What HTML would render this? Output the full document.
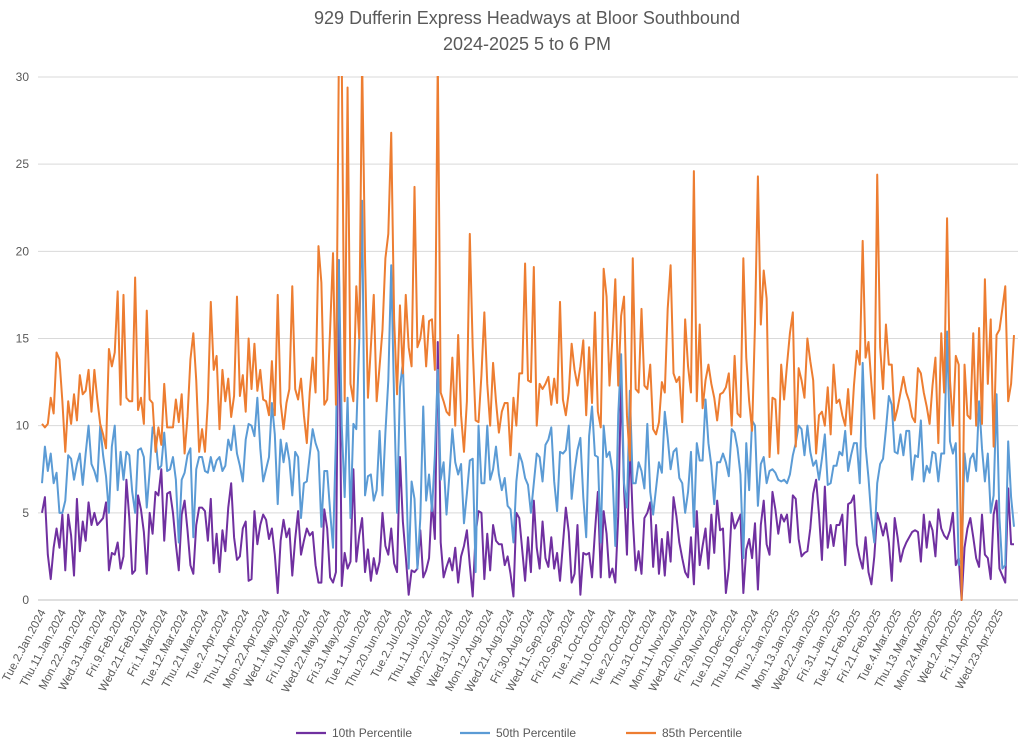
<!DOCTYPE html>
<html><head><meta charset="utf-8"><style>
html,body{margin:0;padding:0;background:#fff;}
svg{display:block;font-family:"Liberation Sans",Arial,sans-serif;}
</style></head><body>
<svg id="chart" width="1024" height="746" viewBox="0 0 1024 746">
<text x="527" y="24" text-anchor="middle" font-size="18" fill="#595959">929 Dufferin Express Headways at Bloor Southbound</text>
<text x="527" y="50" text-anchor="middle" font-size="18" fill="#595959">2024-2025 5 to 6 PM</text>
<defs><clipPath id="pc"><rect x="30" y="76" width="994" height="530"/></clipPath></defs>
<g id="grid"></g>
<g id="yaxis"></g>
<g id="xaxis"></g>
<g id="series" clip-path="url(#pc)"></g>
<g id="legend">
<line x1="296" y1="733" x2="326" y2="733" stroke="#7030a0" stroke-width="2.2"/>
<text x="332" y="737" font-size="12" fill="#595959">10th Percentile</text>
<line x1="460" y1="733" x2="490" y2="733" stroke="#5b9bd5" stroke-width="2.2"/>
<text x="496" y="737" font-size="12" fill="#595959">50th Percentile</text>
<line x1="626" y1="733" x2="656" y2="733" stroke="#ed7d31" stroke-width="2.2"/>
<text x="662" y="737" font-size="12" fill="#595959">85th Percentile</text>
</g>
</svg>
<script>
const yTicks = [0,5,10,15,20,25,30];
const xTickLabels = ["Tue.2.Jan.2024","Thu.11.Jan.2024","Mon.22.Jan.2024","Wed.31.Jan.2024","Fri.9.Feb.2024","Wed.21.Feb.2024","Fri.1.Mar.2024","Tue.12.Mar.2024","Thu.21.Mar.2024","Tue.2.Apr.2024","Thu.11.Apr.2024","Mon.22.Apr.2024","Wed.1.May.2024","Fri.10.May.2024","Wed.22.May.2024","Fri.31.May.2024","Tue.11.Jun.2024","Thu.20.Jun.2024","Tue.2.Jul.2024","Thu.11.Jul.2024","Mon.22.Jul.2024","Wed.31.Jul.2024","Mon.12.Aug.2024","Wed.21.Aug.2024","Fri.30.Aug.2024","Wed.11.Sep.2024","Fri.20.Sep.2024","Tue.1.Oct.2024","Thu.10.Oct.2024","Tue.22.Oct.2024","Thu.31.Oct.2024","Mon.11.Nov.2024","Wed.20.Nov.2024","Fri.29.Nov.2024","Tue.10.Dec.2024","Thu.19.Dec.2024","Thu.2.Jan.2025","Mon.13.Jan.2025","Wed.22.Jan.2025","Fri.31.Jan.2025","Tue.11.Feb.2025","Fri.21.Feb.2025","Tue.4.Mar.2025","Thu.13.Mar.2025","Mon.24.Mar.2025","Wed.2.Apr.2025","Fri.11.Apr.2025","Wed.23.Apr.2025"];
const labelEvery = 7;
const p85 = [10.1,9.9,10.1,11.6,10.7,14.2,13.8,11.4,8.5,11.4,
10.1,11.8,10.3,12.9,11.8,12,13.2,10.8,13.2,11.5,
10.1,9.5,8.7,14.4,13.4,14.2,17.7,11.2,17.5,11.6,
11.4,11.4,18.5,10.9,11.6,10.1,16.6,11.5,11.3,8.5,
9.9,8.9,12.4,9.9,9.9,9.9,11.5,10.2,11.8,8.4,
10.5,13.8,15.3,12.6,8.5,9.8,8.5,11.4,17.1,13.2,
14,9.8,13.2,11.4,12.7,10.5,11.7,17.4,11.7,12.9,
10.8,15,12.1,14.7,12,13.2,11.5,11.4,10.6,13.7,
10.6,17.5,11.3,9.8,11.3,12.1,18,12.1,11.5,12.7,
10.6,9,11.9,13.9,11.9,20.3,18.2,11.2,11.5,15.5,
19.9,11.2,31,31,11.4,29.4,12.4,11.4,18,15,
31,19.6,11.6,14.5,17.5,11.4,13.4,15.5,19.6,21,
26.8,16.1,11.8,16.9,13,17.5,14.5,13.4,23.7,14.5,
15,16.3,13.4,16,16.1,13.2,31,11.9,11.4,10.8,
10.6,13.9,10,15.2,10.6,8.5,11.4,21,14.5,10.3,
10.2,12.9,16.5,12.4,10,13.6,11.4,9.6,10.8,11.3,
11.3,8.3,11.6,10,13,13,19.3,12.6,12.5,19.1,
10,12.4,12.1,12.4,12.8,11.2,12.7,11.3,17.1,11.5,
10.6,11.9,14.7,13.2,12.3,13.4,14.9,10.6,14.5,11.3,
16.5,10.8,9.9,19,17.4,12.3,15,18.4,12.3,16.3,
17.4,10.6,8,19.6,12.1,11.9,16.7,12.3,12.1,13.5,
9.8,9.5,10.2,12.5,11.9,16.7,19.2,13,12.5,12.8,
10.2,16.1,13.4,11.9,24.6,11.4,15.8,11,12.6,13.5,
12.4,11.6,10.3,11.8,11.9,12.2,13,10,14,10.7,
10.5,19.6,13.9,11.4,9.7,15.8,24.3,15.8,18.9,17.3,
8.2,11.6,11.5,8.4,13.5,11.5,13.5,15.3,16.5,8.8,
13.3,12.6,11.6,15,13.7,12.6,8.4,10.6,10.8,10,
12.2,9.5,13.5,11.3,11.5,10.6,10,12.1,9.5,12.3,
14.3,13.5,20.6,13.9,14.8,12.4,10.4,24.4,14.5,12.1,
15.8,13.5,13.5,10.3,11,11.9,12.8,11.9,11.4,10.5,
10.2,13.3,13,11.9,11.1,10.1,12.3,13.9,9,15.3,
11.9,21.9,12.6,10,14,13.5,0,13.5,10.6,10.4,
15.3,10,15.6,10.1,18.4,12.4,16.1,8.8,15.2,15.5,
16.7,18,11.4,12.4,15.2];
const p50 = [6.7,8.8,7.4,8.4,6.7,7.3,5,5,5.7,8.3,
8.1,6.9,7.8,8.4,6.6,8.4,10,7.8,7.4,6.8,
10,8.3,7.1,5,8.8,10,6.3,8.5,6.9,8.5,
8.3,6.2,5,8.6,8.7,8.2,5.3,7.4,9.9,9.3,
7.5,7.7,9.6,7.4,7.5,8.2,6.9,3.3,6.9,7.3,
8.3,8.7,3.6,7.5,8.2,8.2,7.4,7.3,8.2,7.4,
8,8.2,7.4,7.7,9.2,8.6,10,8.4,7.7,6.8,
9.2,10.1,10,9.4,11.6,8.7,6.8,7.5,8.2,11.3,
9.5,5.5,9.2,7.9,9,8,6,8.5,8.2,4.7,
6.7,6.8,8.3,9.8,9,8.5,4.2,7.4,7.4,5.1,
3,9.3,19.5,10,5.9,11.6,4.7,10.1,9.8,14.8,
22.9,6,7.1,7.2,5.7,6.3,9.7,6,9.6,12.6,
19.2,11.4,5,12.2,13.6,8.1,1.8,6.8,5.8,1.8,
4.7,11.1,5.7,7.2,5.1,8.3,13.2,6.9,7.9,4.9,
7.2,9.8,7.9,7.2,7.8,4.4,6.1,8,8.1,1.6,
10,6.7,6.7,10,6.9,7.5,8.8,7.2,6.3,7,
5.4,5.2,3.3,6.8,8.4,7.9,7,6.6,5,6.7,
8.4,8.2,6.8,8.9,9.2,9.9,6.8,5.1,8.5,8.4,
8.6,10,5.8,7.4,8.6,9.3,5.9,3.6,9.4,11.1,
8.3,8.2,3.3,10,8.2,8.5,7.4,3.1,10.6,14.1,
6.7,5.3,12,6.7,6.7,7.9,7.4,6.4,10.1,6.2,
4.9,6.4,7.9,7.3,10.8,9.3,7.5,8.5,8.7,7,
6.7,5,6.2,8.5,4.2,9,8,8,11.5,9,
7.7,5.5,7.9,7.9,8.4,7.9,7.1,9.8,9.6,8.7,
7.2,2.4,9,6.3,10.3,10,5.4,7.8,8.2,6.7,
7.4,7.5,7.3,6.9,6.8,6.9,6.7,7.2,8.3,9,
10,9.8,8.3,10,8.5,7.7,8,6.9,8.1,9.5,
6.6,6.7,7.7,7.7,8.5,8.3,9.7,7.4,8.3,9,
9,6.7,13.6,8.8,7,4.7,3.3,6.7,7.8,8.1,
9.8,11.7,11.2,8.5,8.4,9.5,8.3,9.7,9.7,6.9,
8.3,8.2,10.3,6.8,7.7,7.3,8.5,8.4,6.8,8.4,
8.4,15.4,9.1,8.4,9,2,2.3,8.4,6.8,8.1,
8.4,7.4,11.4,8.7,6.8,8.4,5,6,11.8,4.7,
1.8,2,9.1,5.9,4.2];
const p10 = [5.0,5.9,2.6,1.2,3.0,4.1,3.0,4.9,1.7,4.9,
3.7,1.4,5.8,2.8,4.5,3.4,5.6,4.3,5.0,4.3,
4.5,4.7,5.6,1.7,2.7,2.6,3.3,1.8,2.5,6.9,
4.7,1.5,1.7,6.0,5.2,3.9,1.5,5.0,3.8,6.2,
6.0,7.5,3.4,6.1,6.2,5.0,3.2,1.7,4.9,5.7,
4.0,2.0,1.5,4.3,5.3,5.3,5.1,3.4,5.8,2.1,
3.8,1.6,4.0,2.8,5.3,6.7,3.6,2.3,2.5,4.1,
4.5,1.1,1.2,5.1,3.2,4.3,4.9,4.6,3.5,4.1,
2.6,0.4,3.4,4.6,3.6,4.1,1.4,3.5,5.1,2.6,
3.4,4.1,3.7,3.9,2.0,1.0,1.0,5.2,4.1,1.3,
1.0,1.6,19.5,0.8,2.7,1.8,2.2,7.5,2.2,3.7,
4.7,1.6,2.9,1.1,2.4,1.5,2.2,5.0,3.1,2.6,
4.1,2.1,1.6,8.2,4.5,2.5,0.3,1.7,1.6,1.8,
4.0,1.3,1.7,2.4,5.7,3.5,14.8,3.3,1.3,1.9,
2.4,1.7,3.0,1.0,2.5,3.1,4.0,2.0,0.2,3.8,
5.1,5.0,1.2,3.8,1.7,4.3,3.4,3.2,3.2,2.0,
2.5,1.5,0.2,5.0,4.7,2.9,1.1,3.6,1.6,5.7,
3.0,1.8,4.5,2.4,1.9,3.6,1.8,2.7,1.1,3.2,
5.3,3.9,1.0,1.5,4.3,0.3,2.7,2.6,2.7,1.3,
3.9,6.2,1.3,5.1,3.8,1.3,1.8,1.0,4.8,12.6,
6.4,2.6,9.1,4.7,1.7,2.8,1.5,4.7,5.0,5.6,
1.9,4.3,1.5,3.5,1.4,3.9,2.2,5.9,4.8,3.3,
2.4,1.6,1.3,3.6,0.9,5.1,2.0,3.1,4.1,1.8,
4.9,2.7,5.7,4.0,4.1,0.4,1.8,5.0,4.1,4.5,
4.9,0.4,2.9,3.5,2.4,4.4,0.6,4.3,5.7,3.2,
2.6,6.2,5.2,3.8,4.9,4.5,4.9,3.3,6.0,5.8,
3.5,2.5,2.7,2.8,4.1,6.1,6.9,4.9,2.3,6.5,
3.0,4.3,3.1,4.3,4.3,4.9,2.0,5.5,5.6,6.0,
3.2,2.4,1.8,3.6,1.6,0.9,2.5,5.0,4.4,3.7,
4.4,3.3,1.1,4.7,3.6,2.2,2.9,3.3,3.6,3.9,
4.0,3.9,2.2,4.9,3.0,4.5,4.0,2.5,5.2,4.1,
3.7,3.5,4.0,5.0,2.0,2.4,0,3.0,4.1,4.7,
3.6,2.4,1.9,4.9,2.6,2.4,1.2,4.9,5.7,1.8,
1.4,1.0,6.4,3.2,3.2];

const NS = "http://www.w3.org/2000/svg";
const X0 = 42, X1 = 1014, Y0 = 600, Y30 = 77;
const nPts = Math.max(p85.length, p50.length, p10.length);
function xs(i){ return X0 + i * (X1 - X0) / (nPts - 1); }
function ys(v){ return Y0 - v * (Y0 - Y30) / 30; }

const grid = document.getElementById('grid');
const yaxis = document.getElementById('yaxis');
yTicks.forEach(t => {
  const l = document.createElementNS(NS, 'line');
  l.setAttribute('x1', 38); l.setAttribute('x2', 1018);
  l.setAttribute('y1', ys(t)); l.setAttribute('y2', ys(t));
  l.setAttribute('stroke', t === 0 ? '#bfbfbf' : '#d9d9d9');
  l.setAttribute('stroke-width', 1);
  
  
  grid.appendChild(l);
  const tx = document.createElementNS(NS, 'text');
  tx.setAttribute('x', 29); tx.setAttribute('y', ys(t) + 4);
  tx.setAttribute('text-anchor', 'end');
  tx.setAttribute('font-size', '12');
  tx.setAttribute('fill', '#595959');
  tx.textContent = t;
  
  
  yaxis.appendChild(tx);
});

const xaxis = document.getElementById('xaxis');
xTickLabels.forEach((lab, k) => {
  const x = xs(k * labelEvery) + 4;
  const tx = document.createElementNS(NS, 'text');
  tx.setAttribute('x', x); tx.setAttribute('y', 612);
  tx.setAttribute('text-anchor', 'end');
  tx.setAttribute('font-size', '11.5');
  tx.setAttribute('fill', '#595959');
  tx.setAttribute('transform', 'rotate(-62 ' + x + ' 612)');
  tx.textContent = lab;
  
  
  xaxis.appendChild(tx);
});

const series = document.getElementById('series');
function drawLine(arr, color, name){
  const pts = arr.map((v, i) => xs(i).toFixed(2) + ',' + ys(v).toFixed(2)).join(' ');
  const pl = document.createElementNS(NS, 'polyline');
  pl.setAttribute('points', pts);
  pl.setAttribute('fill', 'none');
  pl.setAttribute('stroke', color);
  pl.setAttribute('stroke-width', '2');
  pl.setAttribute('stroke-linejoin', 'round');
  
  
  series.appendChild(pl);
}
drawLine(p10, '#7030a0', 'line-10th-percentile');
drawLine(p50, '#5b9bd5', 'line-50th-percentile');
drawLine(p85, '#ed7d31', 'line-85th-percentile');
</script>
</body></html>
